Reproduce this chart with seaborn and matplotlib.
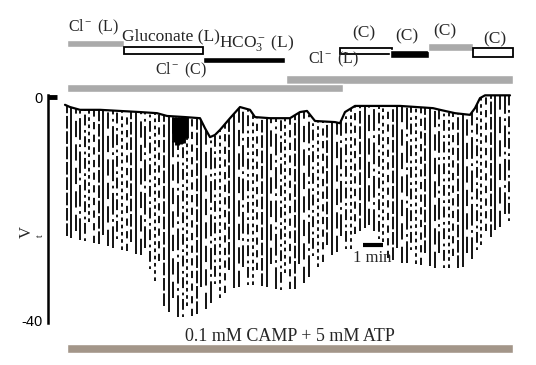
import numpy as np
import pandas as pd
import matplotlib
matplotlib.use("Agg")
import matplotlib.pyplot as plt
import seaborn as sns

# Trace outline (time in min, potential in mV)
top_t = [0.0, 0.25, 0.75, 1.75, 2.75, 3.75, 4.6, 5.1, 6.0, 6.75, 7.0, 7.25, 7.5, 7.75,
         8.25, 8.75, 9.25, 9.5, 10.25, 11.25, 11.75, 12.1, 12.5, 13.5, 13.75, 14.0,
         14.5, 16.75, 18.4, 18.75, 19.5, 20.25, 20.5, 20.75, 21.0, 22.25]
top_v = [-1.4, -1.8, -2.3, -2.3, -2.5, -2.7, -2.9, -3.4, -3.6, -3.8, -5.6, -7.2, -6.8, -5.9,
         -3.8, -1.8, -2.3, -3.6, -3.8, -3.8, -2.7, -2.5, -4.3, -4.5, -4.7, -2.7,
         -1.6, -1.6, -2.0, -2.3, -2.9, -3.2, -2.0, -0.2, 0.3, 0.3]

# Downward deflections: time, start and end of each stroke
spike_t = [0.10, 0.30, 0.55, 0.75, 1.00, 1.20, 1.45, 1.70, 1.90, 2.15, 2.40, 2.60, 2.85, 3.10,
           3.30, 3.55, 3.80, 4.00, 4.25, 4.50, 4.70, 4.95, 5.20, 5.40, 5.65, 5.90, 6.10, 6.35,
           6.60, 6.80, 7.05, 7.30, 7.50, 7.75, 8.00, 8.20, 8.45, 8.70, 8.90, 9.15, 9.40, 9.60,
           9.85, 10.10, 10.30, 10.55, 10.80, 11.00, 11.25, 11.50, 11.70, 11.95, 12.20, 12.40,
           12.65, 12.90, 13.10, 13.35, 13.60, 13.80, 14.05, 14.30, 14.50, 14.75, 15.00, 15.20,
           15.45, 15.70, 15.90, 16.15, 16.40, 16.60, 16.85, 17.10, 17.30, 17.55, 17.80, 18.00,
           18.25, 18.50, 18.70, 18.95, 19.20, 19.40, 19.65, 19.90, 20.10, 20.35, 20.60, 20.80,
           21.05, 21.30, 21.50, 21.75, 22.00, 22.20]
spike_hi = [-1.5, -1.8, -2.1, -2.3, -2.3, -2.3, -2.4, -2.4, -2.4, -2.5, -2.5, -2.5, -2.5, -2.6,
            -2.6, -2.7, -2.7, -2.7, -2.8, -2.8, -3.0, -3.3, -3.4, -3.5, -3.5, -3.6, -3.6, -3.7,
            -3.7, -4.2, -5.9, -7.1, -6.8, -5.9, -4.8, -3.9, -2.8, -1.9, -1.9, -2.2, -2.8, -3.6,
            -3.8, -3.8, -3.8, -3.8, -3.8, -3.8, -3.8, -3.2, -2.8, -2.6, -2.8, -3.8,
            -4.3, -4.3, -4.4, -4.4, -4.6, -4.2, -2.6, -2.0, -1.6, -1.6, -1.6, -1.6,
            -1.6, -1.6, -1.6, -1.6, -1.6, -1.6, -1.7, -1.7, -1.8, -1.8, -1.9, -1.9,
            -2.0, -2.1, -2.3, -2.5, -2.7, -2.8, -3.0, -3.1, -3.2, -2.8, -1.2, 0.0,
            0.3, 0.3, 0.3, 0.3, 0.3, 0.3]
spike_lo = [-25.0, -25.3, -24.0, -25.6, -25.8, -22.5, -26.2, -26.4, -24.8, -26.8, -27.0, -25.5,
            -27.5, -27.7, -26.0, -28.1, -28.4, -27.0, -30.8, -33.0, -29.5, -37.4, -38.6, -36.0,
            -39.5, -39.4, -37.5, -39.2, -39.0, -34.0, -38.0, -37.0, -33.5, -36.0, -35.2, -31.0,
            -34.3, -34.0, -30.5, -33.8, -33.7, -31.0, -33.9, -34.1, -30.0, -34.5, -34.6, -31.5,
            -34.5, -34.4, -30.0, -33.4, -32.3, -28.5, -30.5, -29.6, -26.5, -28.4, -27.8, -25.0,
            -27.3, -27.2, -24.5, -24.0, -23.5, -23.0, -24.0, -25.5, -26.0, -28.8, -29.2, -27.0,
            -29.7, -29.8, -27.5, -30.0, -30.1, -28.0, -30.4, -30.6, -28.0, -30.7, -30.7, -28.5,
            -30.7, -30.5, -28.0, -29.0, -27.5, -26.5, -24.0, -25.2, -23.9, -23.3, -21.0, -22.3]

# Dense burst near the start of the HCO3- period
burst_t = [5.45, 5.6, 5.75, 5.9, 6.05]
burst_lo = [-8.0, -8.6, -8.4, -8.2, -7.4]

# Solution bars: (start, end) in min
lumen_labels = ["Cl$^-$ (L)", "Gluconate (L)", "HCO$_3^-$ (L)", "Cl$^-$ (L)"]
lumen_start = [0.1, 2.95, 6.9, 11.05]
lumen_end = [2.95, 6.9, 11.0, 22.4]
cell_labels = ["Cl$^-$ (C)", "(C)", "(C)", "(C)", "(C)"]
cell_start = [0.1, 13.75, 16.25, 18.15, 20.4]
cell_end = [13.9, 16.35, 18.2, 20.4, 22.4]
drug_label = "0.1 mM CAMP + 5 mM ATP"
drug_start, drug_end = 0.1, 22.4

sns.set_style("white")
plt.rcParams["font.family"] = ["Liberation Serif", "DejaVu Serif"]
plt.rcParams["mathtext.fontset"] = "custom"
plt.rcParams["mathtext.rm"] = "Liberation Serif"
plt.rcParams["mathtext.it"] = "Liberation Serif:italic"

fig = plt.figure(figsize=(5.36, 3.65), dpi=100)
ax = fig.add_axes([0, 0, 1, 1])
ax.set_xlim(-3.25, 23.55)
ax.set_ylim(-48.07, 17.40)

# trace: chart-recorder strokes, printed broken
patterns = [(0, (7.0, 1.5)), (0, (2.0, 2.0)), (0, (12.0, 2.5, 1.5, 2.5)), "solid",
            (0, (4.0, 3.0)), (0, (1.5, 2.5, 6.0, 2.0)), (0, (9.0, 4.0))]
styles = [patterns[(i * 3) % len(patterns)] for i in range(len(spike_t))]
ax.vlines(spike_t, spike_lo, spike_hi, colors="black", linewidth=1.3, linestyles=styles)
ax.vlines(burst_t, burst_lo, [-3.5] * len(burst_t), colors="black", linewidth=3.5)
sns.lineplot(x=top_t, y=top_v, color="black", linewidth=1.6, ax=ax)

# bar styles
gray = "#aaaaaa"
# lumen row
ax.barh(9.6, lumen_end[0] - lumen_start[0], left=lumen_start[0], height=1.25, color=gray)
ax.barh(8.34, lumen_end[1] - lumen_start[1], left=lumen_start[1], height=1.1,
        facecolor="white", edgecolor="black", linewidth=1.3)
ax.barh(6.63, lumen_end[2] - lumen_start[2], left=lumen_start[2], height=1.05, color="black")
ax.barh(3.14, lumen_end[3] - lumen_start[3], left=lumen_start[3], height=1.6, color=gray)
# cell row
ax.barh(1.6, cell_end[0] - cell_start[0], left=cell_start[0], height=1.45, color=gray)
ax.barh(8.25, cell_end[1] - cell_start[1], left=cell_start[1], height=1.0,
        facecolor="white", edgecolor="black", linewidth=1.3)
ax.barh(7.7, cell_end[2] - cell_start[2], left=cell_start[2], height=1.4, color="black")
ax.barh(8.97, cell_end[3] - cell_start[3], left=cell_start[3], height=1.4, color=gray)
ax.barh(7.98, cell_end[4] - cell_start[4], left=cell_start[4], height=1.5,
        facecolor="white", edgecolor="black", linewidth=1.3)
# drug bar
ax.barh(-45.1, drug_end - drug_start, left=drug_start, height=1.55, color="#a39689")

fs = 12.5
fs_cl = 11.5
ax.text(1.4, 12.4, lumen_labels[0], ha="center", va="center", fontsize=fs_cl)
ax.text(5.3, 10.9, lumen_labels[1], ha="center", va="center", fontsize=fs)
ax.text(9.6, 9.7, lumen_labels[2], ha="center", va="center", fontsize=fs)
ax.text(13.4, 6.8, lumen_labels[3], ha="center", va="center", fontsize=fs_cl)
ax.text(5.8, 4.8, cell_labels[0], ha="center", va="center", fontsize=fs_cl)
ax.text(14.95, 11.5, cell_labels[1], ha="center", va="center", fontsize=fs)
ax.text(17.1, 10.8, cell_labels[2], ha="center", va="center", fontsize=fs)
ax.text(19.0, 11.8, cell_labels[3], ha="center", va="center", fontsize=fs)
ax.text(21.5, 10.4, cell_labels[4], ha="center", va="center", fontsize=fs)
ax.text(11.25, -42.9, drug_label, ha="center", va="center", fontsize=13)

# 1 min scale bar
ax.plot([14.9, 15.9], [-26.5, -26.5], color="black", linewidth=3.0, solid_capstyle="butt")
ax.text(15.35, -28.8, "1 min", ha="center", va="center", fontsize=12)

# voltage axis
for s in ["top", "right", "bottom"]:
    ax.spines[s].set_visible(False)
ax.spines["left"].set_position(("data", -0.85))
ax.spines["left"].set_bounds(-40.5, 0.4)
ax.spines["left"].set_linewidth(1.8)
ax.spines["left"].set_color("black")
ax.set_xticks([])
ax.set_yticks([0, -40])
ax.set_yticklabels(["0", "-40"], family="Liberation Sans")
ax.tick_params(axis="y", direction="in", length=6.5, width=1.6, labelsize=10.5, pad=4, colors="black")
ax.plot([-0.85, -0.4], [0, 0], color="black", linewidth=3.5, solid_capstyle="butt")
ax.text(-1.9, -24.2, "V", rotation=90, ha="center", va="center", fontsize=12)
ax.text(-1.22, -24.9, "t", rotation=90, ha="center", va="center", fontsize=7)

fig.savefig("out.png", dpi=100)
